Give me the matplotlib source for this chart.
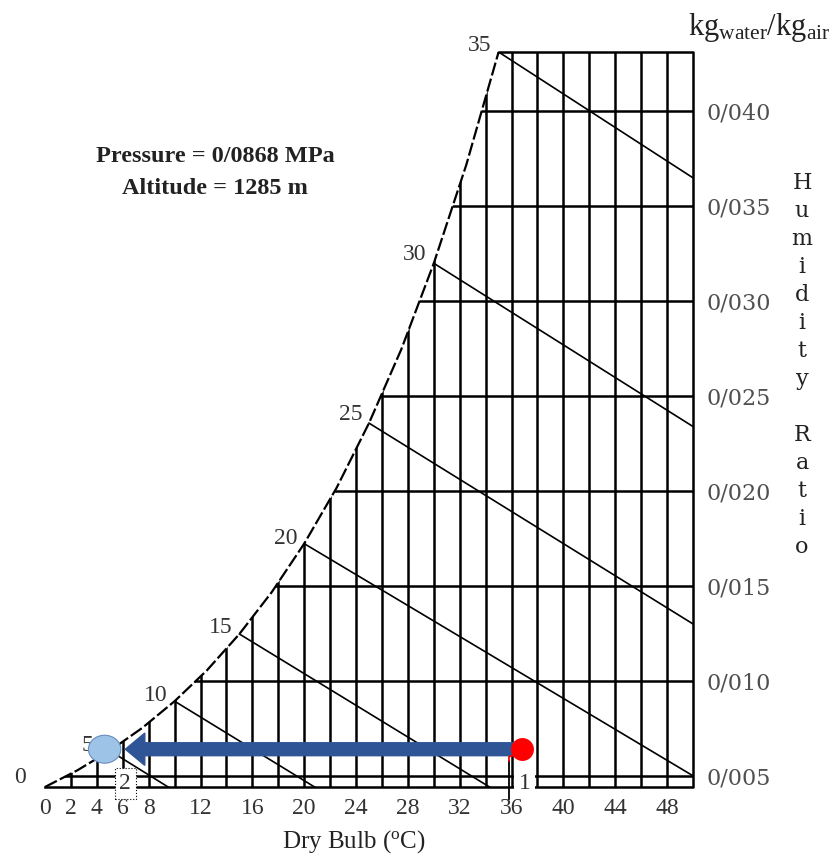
import matplotlib
matplotlib.use('Agg')
import matplotlib.pyplot as plt
from matplotlib.patches import Polygon, Ellipse

plt.rcParams['font.family'] = ['Liberation Serif', 'DejaVu Serif']
plt.rcParams['mathtext.fontset'] = 'custom'
plt.rcParams['mathtext.rm'] = 'Liberation Serif'
plt.rcParams['mathtext.it'] = 'Liberation Serif:italic'

# saturation curve (dry bulb in C, kg water / kg air)
sat_t = [0, 2.5, 5, 7.5, 10, 12.5, 15, 17.5, 20, 22.5, 25, 27.5, 30, 32.5, 35]
sat_w = [0.00441, 0.00529, 0.00632, 0.00752, 0.00893, 0.01056, 0.01247, 0.01468,
         0.01723, 0.02017, 0.02358, 0.02748, 0.03200, 0.03717, 0.04313]

# wet bulb lines: start temperature on the curve, end point on the grid border
wb_t = [0, 5, 10, 15, 20, 25, 30, 35]
wb_end_t = [0, 9.5, 20.8, 34.3, 50, 50, 50, 50]
wb_end_w = [0.00441, 0.00441, 0.00441, 0.00441, 0.0050, 0.0130, 0.0234, 0.0365]

db_grid = list(range(2, 50, 2))
w_grid = [0.005, 0.010, 0.015, 0.020, 0.025, 0.030, 0.035, 0.040]

x_ticks = [0, 2, 4, 6, 8, 12, 16, 20, 24, 28, 32, 36, 40, 44, 48]
y_ticks = w_grid
y_labels = ['0/005', '0/010', '0/015', '0/020', '0/025', '0/030', '0/035', '0/040']

# process 1 -> 2
state1 = (36.8, 0.0064)
state2 = (4.6, 0.0064)

sat = dict(zip(sat_t, sat_w))
t_max = 50
w_min, w_max = sat_w[0], sat_w[-1]

fig = plt.figure(figsize=(8.32, 8.61), dpi=100)
ax = fig.add_axes([45 / 832, 1 - 787 / 861, 648 / 832, 735 / 861])
ax.set_xlim(0, t_max)
ax.set_ylim(w_min, w_max)
for s in ax.spines.values():
    s.set_visible(False)

# region under the saturation curve, used to clip the grid
outline = list(zip(sat_t, sat_w)) + [(t_max, w_max), (t_max, w_min)]
clip = Polygon(outline, closed=True, fc='none', ec='none')
ax.add_patch(clip)

vl = ax.vlines(db_grid, w_min, w_max, color='black', lw=1.8)
vl.set_clip_path(clip)
hl = ax.hlines(w_grid, 0, t_max, color='black', lw=1.8)
hl.set_clip_path(clip)

ax.plot([sat_t[-1], t_max, t_max, 0], [w_max, w_max, w_min, w_min],
        color='black', lw=1.8, clip_on=False)
ax.plot(sat_t, sat_w, color='black', lw=1.6, ls=(0, (6, 1.5)), clip_on=False)

wb_dx = [-14, -12, -5, -5, -5, -5, -5, -5]
wb_dy = [7, 4, 4, 5, 4, 6, 6, 5]
for t, et, ew, dx, dy in zip(wb_t, wb_end_t, wb_end_w, wb_dx, wb_dy):
    ax.plot([t, et], [sat[t], ew], color='black', lw=1.2)
    ax.annotate(str(t), (t, sat[t]), xytext=(dx, dy), textcoords='offset points',
                ha='right', va='center', fontsize=17, color='#333333',
                annotation_clip=False)

# process arrow and state points
ax.arrow(state1[0], state1[1], state2[0] + 1.6 - state1[0], 0,
         width=0.00068, head_width=0.0017, head_length=1.5,
         length_includes_head=True, color='#2f5597', zorder=4)
ax.plot(*state1, 'o', ms=16.5, color='#ff0000', mec='none', zorder=6)
ax.add_patch(Ellipse(state2, width=2.5, height=0.00147, fc='#9dc3e6',
                     ec='#6a8cbd', lw=0.8, zorder=6))
ax.plot([35.8, 35.8], [0.0038, 0.0058], color='black', lw=1.3,
        clip_on=False, zorder=8)
ax.plot([35.8, 35.8, 36.2], [0.0058, 0.00600, 0.0061], color='#ff0000', lw=1.3,
        clip_on=False, zorder=8)
ax.text(37.0, 0.0046, '1', ha='center', va='center', fontsize=17, color='#333333',
        bbox=dict(fc='white', ec='none', pad=3), zorder=7, clip_on=False)
ax.text(6.2, 0.0046, '2', ha='center', va='center', fontsize=17, color='#333333',
        bbox=dict(fc='white', ec='black', ls=':', lw=0.8, pad=3.5), zorder=7,
        clip_on=False)

ax.set_xticks(x_ticks)
ax.tick_params(axis='x', length=0, pad=8, labelsize=17, labelcolor='#333333')
ax.yaxis.tick_right()
ax.set_yticks(y_ticks, y_labels)
ax.tick_params(axis='y', length=0, pad=10, labelsize=16, labelcolor='#505050')
for lbl in ax.get_yticklabels():
    lbl.set_fontfamily('DejaVu Serif')

fig.text(0.4255, 1 - 842 / 861, r'Dry Bulb ($^{\mathrm{o}}$C)', ha='center',
         va='center', fontsize=18, color='#222222')
fig.text(0.998, 1 - 28 / 861, r'kg$_{\mathrm{water}}$/kg$_{\mathrm{air}}$',
         ha='right', va='center', fontsize=22, color='#222222')
fig.text(0.964, 1 - 365 / 861, '\n'.join('Humidity') + '\n\n' + '\n'.join('Ratio'),
         ha='center', va='center', multialignment='center', fontsize=16,
         family='DejaVu Serif', linespacing=1.35, color='#222222')
fig.text(215 / 832, 1 - 157 / 861, 'Pressure = 0/0868 MPa', ha='center',
         va='center', fontsize=17.5, fontweight='bold', color='#222222')
fig.text(215 / 832, 1 - 189 / 861, 'Altitude = 1285 m', ha='center',
         va='center', fontsize=17.5, fontweight='bold', color='#222222')

fig.savefig('out.png', dpi=100)
